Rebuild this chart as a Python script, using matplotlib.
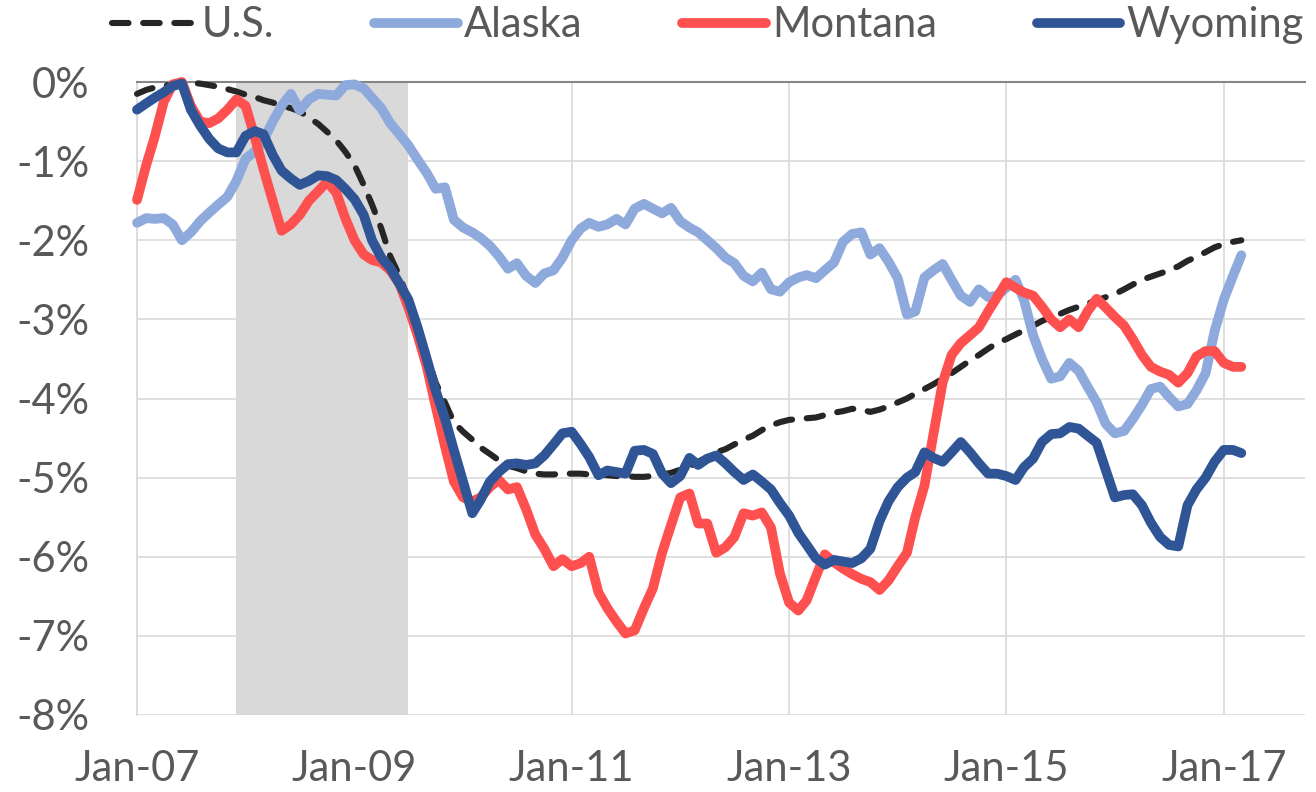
import matplotlib
matplotlib.use("Agg")
import matplotlib.pyplot as plt
import pandas as pd

plt.rcParams.update({
    "font.family": ["Lato", "DejaVu Sans"],
    "font.size": 30,
    "text.color": "#595959",
    "axes.unicode_minus": False,
})

# monthly employment change from peak, percent (Jan 2007 - Mar 2017)
months = pd.date_range("2007-01-01", periods=123, freq="MS")

us = [
    -0.15, -0.10, -0.07, -0.05, -0.03, -0.02, -0.01, -0.02, -0.04, -0.06,
    -0.09, -0.12, -0.16, -0.19, -0.23, -0.26, -0.30, -0.33, -0.37, -0.45,
    -0.53, -0.63, -0.74, -0.88, -1.05, -1.30, -1.55, -1.85, -2.20, -2.45,
    -2.75, -3.10, -3.45, -3.80, -4.05, -4.30, -4.42, -4.52, -4.62, -4.70,
    -4.78, -4.85, -4.88, -4.92, -4.95, -4.96, -4.96, -4.95, -4.95, -4.95,
    -4.96, -4.96, -4.97, -4.98, -4.98, -4.99, -4.99, -4.98, -4.96, -4.94,
    -4.90, -4.86, -4.80, -4.74, -4.68, -4.64, -4.58, -4.52, -4.47, -4.40,
    -4.34, -4.30, -4.27, -4.26, -4.25, -4.24, -4.21, -4.18, -4.16, -4.13,
    -4.14, -4.17, -4.14, -4.10, -4.05, -4.00, -3.94, -3.88, -3.82, -3.75,
    -3.68, -3.60, -3.52, -3.45, -3.37, -3.30, -3.25, -3.19, -3.14, -3.08,
    -3.02, -2.97, -2.93, -2.88, -2.84, -2.80, -2.76, -2.72, -2.68, -2.62,
    -2.56, -2.50, -2.46, -2.42, -2.38, -2.33, -2.26, -2.21, -2.15, -2.09,
    -2.05, -2.02, -2.00,
]

alaska = [
    -1.78, -1.72, -1.73, -1.72, -1.80, -2.00, -1.90, -1.76, -1.65, -1.55,
    -1.45, -1.25, -0.97, -0.88, -0.74, -0.50, -0.30, -0.15, -0.36, -0.22,
    -0.15, -0.16, -0.17, -0.04, -0.03, -0.08, -0.20, -0.33, -0.52, -0.66,
    -0.80, -0.98, -1.15, -1.35, -1.33, -1.74, -1.84, -1.90, -1.97, -2.07,
    -2.20, -2.36, -2.29, -2.45, -2.54, -2.42, -2.38, -2.22, -2.00, -1.85,
    -1.78, -1.83, -1.80, -1.73, -1.80, -1.60, -1.54, -1.60, -1.66, -1.59,
    -1.76, -1.84, -1.90, -2.00, -2.10, -2.22, -2.29, -2.45, -2.52, -2.41,
    -2.62, -2.65, -2.53, -2.47, -2.44, -2.48, -2.38, -2.28, -2.02, -1.92,
    -1.90, -2.18, -2.10, -2.27, -2.48, -2.94, -2.90, -2.47, -2.38, -2.30,
    -2.50, -2.70, -2.78, -2.62, -2.72, -2.70, -2.60, -2.50, -2.75, -3.20,
    -3.50, -3.75, -3.72, -3.55, -3.65, -3.85, -4.05, -4.32, -4.44, -4.41,
    -4.26, -4.08, -3.88, -3.85, -3.98, -4.10, -4.07, -3.90, -3.68, -3.15,
    -2.75, -2.45, -2.19,
]

montana = [
    -1.49, -1.05, -0.70, -0.25, -0.03, 0.00, -0.30, -0.50, -0.52, -0.46,
    -0.35, -0.22, -0.30, -0.70, -1.10, -1.50, -1.88, -1.80, -1.68, -1.50,
    -1.38, -1.26, -1.40, -1.72, -2.00, -2.18, -2.25, -2.28, -2.38, -2.55,
    -2.85, -3.20, -3.60, -4.10, -4.60, -5.05, -5.25, -5.30, -5.25, -5.12,
    -5.03, -5.15, -5.12, -5.40, -5.72, -5.90, -6.12, -6.03, -6.12, -6.08,
    -6.00, -6.45, -6.65, -6.82, -6.97, -6.93, -6.65, -6.40, -5.95, -5.60,
    -5.25, -5.20, -5.58, -5.58, -5.95, -5.88, -5.75, -5.45, -5.48, -5.44,
    -5.63, -6.21, -6.58, -6.68, -6.55, -6.25, -5.97, -6.07, -6.15, -6.22,
    -6.28, -6.32, -6.42, -6.30, -6.12, -5.95, -5.50, -5.10, -4.45, -3.80,
    -3.45, -3.30, -3.20, -3.10, -2.90, -2.72, -2.53, -2.60, -2.66, -2.70,
    -2.84, -3.00, -3.10, -3.00, -3.10, -2.90, -2.74, -2.85, -2.97, -3.08,
    -3.25, -3.45, -3.60, -3.66, -3.70, -3.80, -3.68, -3.47, -3.40, -3.40,
    -3.55, -3.60, -3.60,
]

wyoming = [
    -0.35, -0.27, -0.20, -0.13, -0.05, -0.02, -0.35, -0.55, -0.72, -0.84,
    -0.89, -0.89, -0.68, -0.62, -0.66, -0.92, -1.12, -1.22, -1.30, -1.25,
    -1.18, -1.19, -1.24, -1.35, -1.48, -1.68, -2.00, -2.22, -2.35, -2.55,
    -2.75, -3.10, -3.50, -3.90, -4.25, -4.65, -5.05, -5.45, -5.28, -5.05,
    -4.93, -4.83, -4.82, -4.84, -4.82, -4.72, -4.58, -4.44, -4.42, -4.58,
    -4.74, -4.97, -4.91, -4.93, -4.95, -4.66, -4.65, -4.70, -4.95, -5.07,
    -4.98, -4.75, -4.84, -4.76, -4.72, -4.82, -4.93, -5.03, -4.96, -5.05,
    -5.15, -5.32, -5.48, -5.70, -5.85, -6.02, -6.10, -6.04, -6.06, -6.08,
    -6.02, -5.90, -5.55, -5.30, -5.12, -5.00, -4.93, -4.68, -4.75, -4.80,
    -4.68, -4.55, -4.68, -4.82, -4.95, -4.95, -4.98, -5.03, -4.87, -4.76,
    -4.55, -4.45, -4.44, -4.36, -4.38, -4.47, -4.56, -4.90, -5.25, -5.22,
    -5.21, -5.35, -5.57, -5.75, -5.85, -5.87, -5.35, -5.15, -5.00, -4.80,
    -4.65, -4.65, -4.69,
]

recession_start = "2007-12-01"
recession_end = "2009-07-01"

y_ticks = [0, -1, -2, -3, -4, -5, -6, -7, -8]
x_ticks = ["2007-01-01", "2009-01-01", "2011-01-01", "2013-01-01",
           "2015-01-01", "2017-01-01"]
x_labels = ["Jan-07", "Jan-09", "Jan-11", "Jan-13", "Jan-15", "Jan-17"]

GRID = "#D9D9D9"

fig = plt.figure(figsize=(13.16, 7.92), dpi=100)
ax = fig.add_axes([137 / 1316, 1 - 715 / 792, 1168 / 1316, 633 / 792])

ax.axvspan(pd.Timestamp(recession_start), pd.Timestamp(recession_end),
           color=GRID, lw=0, zorder=0)

line_kw = dict(lw=7, solid_joinstyle="round", solid_capstyle="round",
               clip_on=False)
ax.plot(months, us, color="#262626", lw=4.4, ls=(0, (2.7, 2.4)),
        dash_capstyle="round", label="U.S.", zorder=3, clip_on=False)
ax.plot(months, alaska, color="#8EA9DB", label="Alaska", zorder=4, **line_kw)
ax.plot(months, montana, color="#FF5050", label="Montana", zorder=5, **line_kw)
ax.plot(months, wyoming, color="#2F5597", label="Wyoming", zorder=6, **line_kw)

ax.set_ylim(-8, 0)
ax.set_xlim(months[0], pd.Timestamp("2017-10-01"))
ax.set_yticks(y_ticks)
ax.set_yticklabels([f"{v}%" for v in y_ticks])
ax.set_xticks([pd.Timestamp(t) for t in x_ticks])
ax.set_xticklabels(x_labels)
ax.tick_params(axis="y", length=0, pad=34, colors="#595959", labelsize=30)
ax.tick_params(axis="x", length=0, pad=25, colors="#595959", labelsize=30)

ax.set_axisbelow(True)
ax.grid(True, color=GRID, lw=1.2)
for side in ["right", "bottom"]:
    ax.spines[side].set_visible(False)
ax.spines["left"].set_color(GRID)
ax.spines["left"].set_linewidth(1.2)
ax.spines["top"].set_color("#868686")
ax.spines["top"].set_linewidth(1.5)

fig.legend(loc="center", bbox_to_anchor=(0.538, 0.968), ncol=4,
           frameon=False, handlelength=2.0, handletextpad=0.15,
           columnspacing=2.4, fontsize=30)

fig.savefig("out.png", dpi=100)
